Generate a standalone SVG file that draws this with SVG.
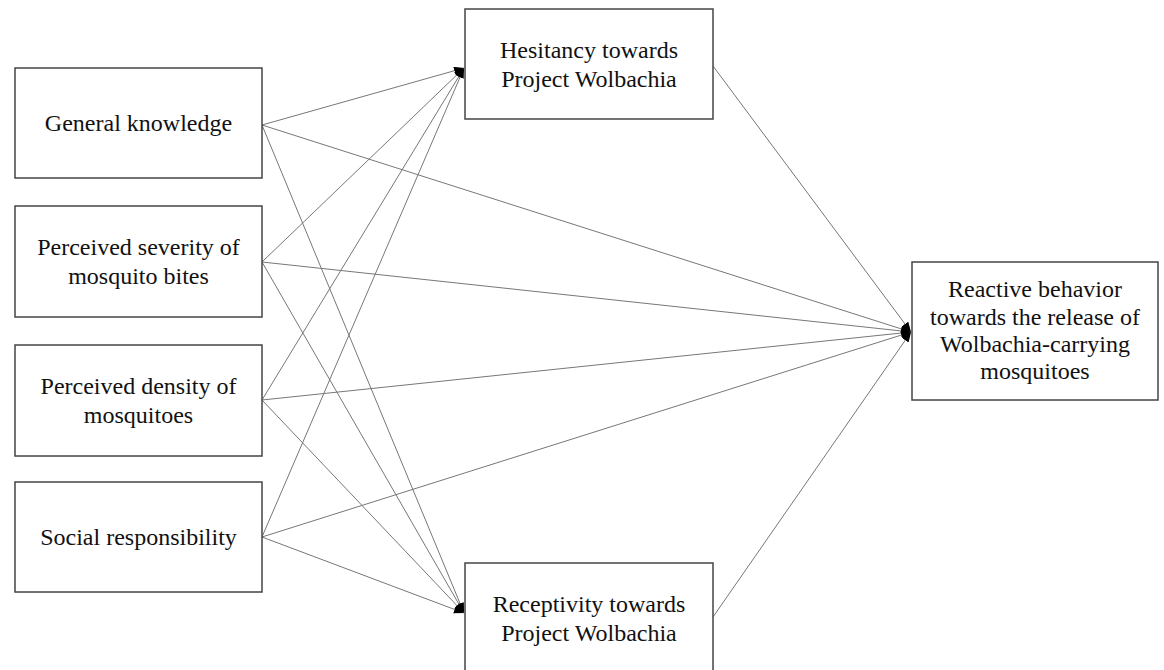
<svg xmlns="http://www.w3.org/2000/svg" width="1164" height="670" viewBox="0 0 1164 670">
<style>
.box{fill:#fff;stroke:#444;stroke-width:1.5}
.lbl{font-family:"Liberation Serif","Times New Roman",serif;font-size:24px;fill:#111;text-anchor:middle}
.edge{stroke:#777;stroke-width:1;fill:none;marker-end:url(#ah)}
</style>
<defs>
<marker id="ah" markerUnits="userSpaceOnUse" markerWidth="12" markerHeight="10" refX="10" refY="4" orient="auto">
<path d="M0,0 L10,4 L0,8 Z" fill="#000"/>
</marker>
</defs>
<rect width="1164" height="670" fill="#fff"/>
<g id="connectors">
<line class="edge" x1="262" y1="125" x2="464" y2="68"/>
<line class="edge" x1="262" y1="125" x2="464" y2="613"/>
<line class="edge" x1="262" y1="125" x2="911" y2="332"/>
<line class="edge" x1="262" y1="262" x2="464" y2="68"/>
<line class="edge" x1="262" y1="262" x2="464" y2="613"/>
<line class="edge" x1="262" y1="262" x2="911" y2="332"/>
<line class="edge" x1="262" y1="400" x2="464" y2="68"/>
<line class="edge" x1="262" y1="400" x2="464" y2="613"/>
<line class="edge" x1="262" y1="400" x2="911" y2="332"/>
<line class="edge" x1="262" y1="537" x2="464" y2="68"/>
<line class="edge" x1="262" y1="537" x2="464" y2="613"/>
<line class="edge" x1="262" y1="537" x2="911" y2="332"/>
<line class="edge" x1="713" y1="66" x2="911" y2="332"/>
<line class="edge" x1="713" y1="617" x2="911" y2="332"/>
</g>
<g id="general-knowledge">
<rect class="box" x="15" y="68" width="247" height="110"/>
<text class="lbl" x="138.5" y="131">General knowledge</text>
</g>
<g id="perceived-severity">
<rect class="box" x="15" y="206" width="247" height="111"/>
<text class="lbl" x="138.5" y="255">Perceived severity of</text>
<text class="lbl" x="138.5" y="284">mosquito bites</text>
</g>
<g id="perceived-density">
<rect class="box" x="15" y="345" width="247" height="111"/>
<text class="lbl" x="138.5" y="394">Perceived density of</text>
<text class="lbl" x="138.5" y="423">mosquitoes</text>
</g>
<g id="social-responsibility">
<rect class="box" x="15" y="482" width="247" height="110"/>
<text class="lbl" x="138.5" y="545">Social responsibility</text>
</g>
<g id="hesitancy">
<rect class="box" x="465" y="9" width="248" height="110"/>
<text class="lbl" x="589" y="58">Hesitancy towards</text>
<text class="lbl" x="589" y="87">Project Wolbachia</text>
</g>
<g id="receptivity">
<rect class="box" x="465" y="563" width="248" height="112"/>
<text class="lbl" x="589" y="612">Receptivity towards</text>
<text class="lbl" x="589" y="641">Project Wolbachia</text>
</g>
<g id="reactive-behavior">
<rect class="box" x="912" y="262" width="246" height="138"/>
<text class="lbl" x="1035" y="297">Reactive behavior</text>
<text class="lbl" x="1035" y="325">towards the release of</text>
<text class="lbl" x="1035" y="352">Wolbachia-carrying</text>
<text class="lbl" x="1035" y="379">mosquitoes</text>
</g>
</svg>
